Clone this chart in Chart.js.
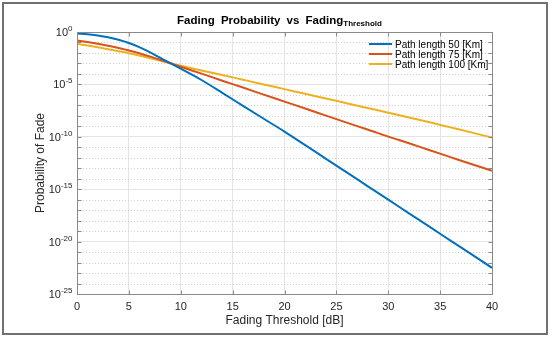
<!DOCTYPE html>
<html lang="en">
<head>
    <meta charset="UTF-8">
    <title>Fading Probability vs Fading Threshold</title>
    <script src="https://cdn.jsdelivr.net/npm/chart.js"></script>
    <style>
        body { margin: 0; background: #fff; font-family: "Liberation Sans", Arial, sans-serif; }
        #wrap { position: relative; width: 550px; height: 338px; }
        #title { position: absolute; left: 72px; width: 415px; top: 14px; text-align: center;
                 font-weight: bold; font-size: 11.5px; word-spacing: 3px; color: #000; }
        #title sub { font-size: 8px; word-spacing: 0; vertical-align: -2px; }
        #legend { position: absolute; left: 369px; top: 40px; font-size: 10px; color: #000; }
        .row { height: 10px; line-height: 10px; white-space: nowrap; }
        .swatch { display: inline-block; width: 23px; height: 2px; vertical-align: 3px; margin-right: 3px; }
    </style>
</head>
<body>
<div id="wrap">
    <canvas id="fadeChart" width="550" height="338"></canvas>
    <div id="title">Fading Probability vs Fading<sub>Threshold</sub></div>
    <div id="legend"></div>
</div>
<script>
    // fade threshold [dB]
    const threshold = [0, 1, 2, 3, 4, 5, 6, 7, 8, 9, 10,
                       12, 14, 16, 18, 20, 22, 24, 26, 28, 30, 32, 34, 36, 38, 40];

    // log10 of the fade probability
    const path50 = [-0.15, -0.21, -0.33, -0.5, -0.74, -1.05, -1.45, -1.92, -2.45, -2.98, -3.5,
                    -4.58, -5.8, -7.05, -8.28, -9.5,
                    -10.8, -12.1, -13.4, -14.7, -16.0, -17.3, -18.6, -19.9, -21.2, -22.5];
    const path75 = [-0.8, -0.96, -1.13, -1.32, -1.53, -1.76, -2.03, -2.33, -2.65, -2.98, -3.32,
                    -3.97, -4.65, -5.3, -5.98, -6.64,
                    -7.3, -7.98, -8.65, -9.3, -9.98, -10.62, -11.28, -11.94, -12.6, -13.24];
    const path100 = [-1.12, -1.29, -1.46, -1.64, -1.83, -2.02, -2.24, -2.48, -2.73, -2.98, -3.22,
                     -3.67, -4.1, -4.55, -5.0, -5.45,
                     -5.9, -6.35, -6.8, -7.25, -7.7, -8.15, -8.62, -9.1, -9.58, -10.08];

    const seriesNames = ["Path length 50 [Km]", "Path length 75 [Km]", "Path length 100 [Km]"];
    const seriesColors = ["#0072BD", "#D95319", "#EDB120"];

    const xTicks = [0, 5, 10, 15, 20, 25, 30, 35, 40];
    const yDecades = [0, -1, -2, -3, -4, -5, -6, -7, -8, -9, -10, -11, -12, -13, -14, -15,
                      -16, -17, -18, -19, -20, -21, -22, -23, -24, -25];
    const yLabelExp = [0, -5, -10, -15, -20, -25];

    const FONT = '"Liberation Sans", Arial, sans-serif';

    function toPoints(logs) {
        return logs.map((v, i) => ({ x: threshold[i], y: Math.pow(10, v) }));
    }

    // html legend
    const legend = document.getElementById("legend");
    seriesNames.forEach((name, i) => {
        const row = document.createElement("div");
        row.className = "row";
        row.innerHTML = '<span class="swatch" style="background:' + seriesColors[i] + '"></span>' + name;
        legend.appendChild(row);
    });

    // MATLAB-ish axes: frame, dotted minor grid, box, inside ticks, 10^n labels
    const matlabAxes = {
        id: "matlabAxes",
        beforeDraw(chart) {
            const ctx = chart.ctx;
            ctx.save();
            ctx.strokeStyle = "#707070";
            ctx.lineWidth = 2;
            ctx.strokeRect(3, 3, chart.width - 6, chart.height - 7);
            ctx.restore();
        },
        beforeDatasetsDraw(chart) {
            const { ctx, chartArea: a, scales: { y } } = chart;
            ctx.save();
            ctx.strokeStyle = "#d0d0d0";
            ctx.lineWidth = 1;
            ctx.setLineDash([1, 2]);
            yDecades.forEach(e => {
                if (e % 5 === 0) return;
                const py = Math.round(y.getPixelForValue(Math.pow(10, e))) + 0.5;
                ctx.beginPath();
                ctx.moveTo(a.left, py);
                ctx.lineTo(a.right, py);
                ctx.stroke();
            });
            ctx.restore();
        },
        afterDraw(chart) {
            const { ctx, chartArea: a, scales: { x, y } } = chart;
            ctx.save();
            ctx.strokeStyle = "#8a8a8a";
            ctx.lineWidth = 1;
            const L = Math.round(a.left) + 0.5, R = Math.round(a.right) + 0.5;
            const T = Math.round(a.top) + 0.5, B = Math.round(a.bottom) + 0.5;
            ctx.strokeRect(L, T, R - L, B - T);
            ctx.beginPath();
            yDecades.forEach(e => {
                const py = Math.round(y.getPixelForValue(Math.pow(10, e))) + 0.5;
                ctx.moveTo(L, py); ctx.lineTo(L + 4, py);
                ctx.moveTo(R, py); ctx.lineTo(R - 4, py);
            });
            xTicks.forEach(v => {
                const px = Math.round(x.getPixelForValue(v)) + 0.5;
                ctx.moveTo(px, B); ctx.lineTo(px, B - 4);
                ctx.moveTo(px, T); ctx.lineTo(px, T + 4);
            });
            ctx.stroke();

            ctx.fillStyle = "#262626";
            ctx.textAlign = "right";
            ctx.textBaseline = "alphabetic";
            yLabelExp.forEach(e => {
                const py = y.getPixelForValue(Math.pow(10, e));
                const right = L - 5;
                const expText = String(e);
                ctx.font = "8px " + FONT;
                const ew = ctx.measureText(expText).width;
                ctx.fillText(expText, right, py - 1);
                ctx.font = "11px " + FONT;
                ctx.fillText("10", right - ew, py + 4);
            });
            ctx.restore();
        }
    };

    const ctx = document.getElementById("fadeChart").getContext("2d");
    new Chart(ctx, {
        type: "line",
        data: {
            datasets: [path50, path75, path100].map((s, i) => ({
                label: seriesNames[i],
                data: toPoints(s),
                borderColor: seriesColors[i],
                backgroundColor: seriesColors[i],
                borderWidth: 2,
                pointRadius: 0,
                cubicInterpolationMode: "monotone",
                fill: false
            }))
        },
        options: {
            responsive: false,
            animation: false,
            events: [],
            layout: { padding: { left: 33, right: 58, top: 32, bottom: 0 } },
            plugins: {
                legend: { display: false },
                tooltip: { enabled: false }
            },
            scales: {
                x: {
                    type: "linear",
                    min: 0,
                    max: 40,
                    afterFit: s => { s.height = 44; },
                    afterBuildTicks: s => { s.ticks = xTicks.map(v => ({ value: v })); },
                    border: { display: false },
                    grid: { color: "#e4e4e4", drawTicks: false },
                    ticks: { color: "#262626", font: { family: FONT, size: 11 }, padding: 6 },
                    title: {
                        display: true,
                        text: "Fading Threshold [dB]",
                        color: "#262626",
                        font: { family: FONT, size: 12 },
                        padding: { top: 0, bottom: 10 }
                    }
                },
                y: {
                    type: "logarithmic",
                    min: 1e-25,
                    max: 1,
                    afterFit: s => { s.width = 44; },
                    afterBuildTicks: s => { s.ticks = yDecades.map(e => ({ value: Math.pow(10, e) })); },
                    border: { display: false },
                    grid: {
                        drawTicks: false,
                        color: c => {
                            if (!c.tick) return "transparent";
                            return Math.round(Math.log10(c.tick.value)) % 5 === 0 ? "#e4e4e4" : "transparent";
                        }
                    },
                    ticks: { display: false },
                    title: {
                        display: true,
                        text: "Probability of Fade",
                        color: "#262626",
                        font: { family: FONT, size: 12 },
                        padding: 0
                    }
                }
            }
        },
        plugins: [matlabAxes]
    });
</script>
</body>
</html>
